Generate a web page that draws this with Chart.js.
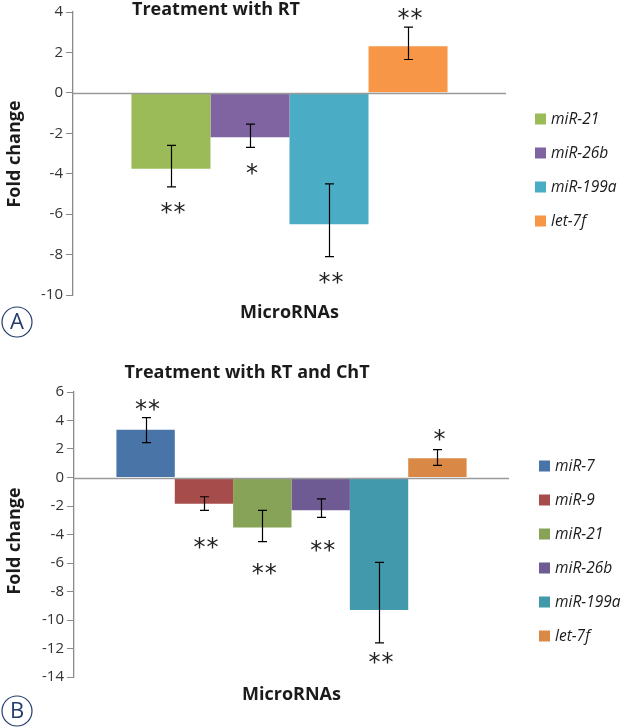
<!DOCTYPE html>
<html>
<head>
<meta charset="utf-8">
<script src="https://cdn.jsdelivr.net/npm/chart.js@4.4.1/dist/chart.umd.min.js"></script>
<style>
  html, body { margin: 0; padding: 0; background: #fff; }
  canvas { position: absolute; left: 0; }
  #chartA { top: 0; }
  #chartB { top: 330px; }
</style>
</head>
<body>
<canvas id="chartA" width="627" height="345"></canvas>
<canvas id="chartB" width="627" height="398"></canvas>
<script>
// Panel A - treatment with RT
const seriesA = ['miR-21', 'miR-26b', 'miR-199a', 'let-7f'];
const valuesA = [-3.75, -2.2, -6.5, 2.3];
const errHighA = [-2.6, -1.55, -4.5, 3.25];
const errLowA = [-4.65, -2.7, -8.1, 1.65];
const starsA = ['**', '*', '**', '**'];
const axisA = { min: -10, max: 4, step: 2 };

// Panel B - treatment with RT and ChT
const seriesB = ['miR-7', 'miR-9', 'miR-21', 'miR-26b', 'miR-199a', 'let-7f'];
const valuesB = [3.35, -1.85, -3.5, -2.3, -9.3, 1.35];
const errHighB = [4.2, -1.35, -2.3, -1.5, -5.95, 1.95];
const errLowB = [2.45, -2.3, -4.5, -2.8, -11.6, 0.85];
const starsB = ['**', '**', '**', '**', '**', '*'];
const axisB = { min: -14, max: 6, step: 2 };

const colorsA = ['#9BBB59', '#8064A2', '#4BACC6', '#F79646'];
const colorsB = ['#4874A7', '#A64C4B', '#87A357', '#6E5B93', '#4399AC', '#D98845'];

const TXT = '#1b1b1b';
const NAVY = '#243c6b';

const makePanel = (canvasId, cfg) => {
    const ctx = document.getElementById(canvasId);

    // draws zero line, error bars, stars, titles, legend and the panel letter
    const deco = {
        id: 'deco',
        afterDatasetsDraw(chart) {
            const c = chart.ctx;
            const y = chart.scales.y;
            const area = chart.chartArea;

            // zero line on top of bars
            c.save();
            c.strokeStyle = '#9a9a9a';
            c.lineWidth = 1.3;
            const y0 = Math.round(y.getPixelForValue(0)) + 0.5;
            c.beginPath();
            c.moveTo(area.left, y0);
            c.lineTo(area.right, y0);
            c.stroke();

            // error bars
            c.strokeStyle = '#000';
            c.lineWidth = 1.2;
            cfg.values.forEach((v, i) => {
                const bar = chart.getDatasetMeta(i).data[0];
                const x = Math.round(bar.x) + 0.5;
                const yh = y.getPixelForValue(cfg.errHigh[i]);
                const yl = y.getPixelForValue(cfg.errLow[i]);
                c.beginPath();
                c.moveTo(x, yh); c.lineTo(x, yl);
                c.moveTo(x - 4.5, yh); c.lineTo(x + 4.5, yh);
                c.moveTo(x - 4.5, yl); c.lineTo(x + 4.5, yl);
                c.stroke();
            });

            // significance stars
            c.fillStyle = '#222';
            c.font = '24px "DejaVu Sans"';
            c.textAlign = 'center';
            c.textBaseline = 'alphabetic';
            const m = c.measureText('*');
            const shift = (m.actualBoundingBoxAscent - m.actualBoundingBoxDescent) / 2;
            cfg.values.forEach((v, i) => {
                const bar = chart.getDatasetMeta(i).data[0];
                const cy = v >= 0
                    ? y.getPixelForValue(cfg.errHigh[i]) - cfg.starOff[i]
                    : y.getPixelForValue(cfg.errLow[i]) + cfg.starOff[i];
                const n = cfg.stars[i].length;
                for (let k = 0; k < n; k++) {
                    const sx = bar.x + 2 + (k - (n - 1) / 2) * 13;
                    c.fillText('*', sx, cy + shift);
                }
            });

            // titles
            c.fillStyle = TXT;
            c.font = 'bold 18px "Open Sans"';
            c.textAlign = 'center';
            c.fillText(cfg.title, cfg.titleX, cfg.titleY);
            c.fillText('MicroRNAs', (area.left + area.right) / 2, cfg.xTitleY);
            c.save();
            c.translate(20, cfg.yTitleY);
            c.rotate(-Math.PI / 2);
            c.fillText('Fold change', 0, 0);
            c.restore();

            // legend
            c.font = 'italic 15.5px "Open Sans"';
            c.textAlign = 'left';
            c.textBaseline = 'middle';
            cfg.series.forEach((s, i) => {
                const ly = cfg.legendY + i * 34;
                c.fillStyle = cfg.colors[i];
                c.fillRect(cfg.legendX, ly - 5.5, 11, 11);
                c.fillStyle = TXT;
                c.fillText(s, cfg.legendX + 16, ly + 1);
            });

            // panel letter in circle
            c.strokeStyle = NAVY;
            c.lineWidth = 1.2;
            c.beginPath();
            c.arc(17, cfg.letterY, 15, 0, Math.PI * 2);
            c.stroke();
            c.fillStyle = NAVY;
            c.font = '22px "Open Sans"';
            c.textAlign = 'center';
            c.textBaseline = 'middle';
            c.fillText(cfg.letter, 17, cfg.letterY + 1);
            c.restore();
        }
    };

    new Chart(ctx, {
        type: 'bar',
        data: {
            labels: ['MicroRNAs'],
            datasets: cfg.series.map((s, i) => ({
                label: s,
                data: [cfg.values[i]],
                backgroundColor: cfg.colors[i],
                borderWidth: 0
            }))
        },
        options: {
            responsive: false,
            animation: false,
            layout: { padding: cfg.padding },
            datasets: {
                bar: { categoryPercentage: cfg.catPct, barPercentage: 1 }
            },
            scales: {
                x: { display: false },
                y: {
                    min: cfg.axis.min,
                    max: cfg.axis.max,
                    afterFit: (scale) => { scale.width = cfg.axisLeft; },
                    ticks: {
                        stepSize: cfg.axis.step,
                        color: '#333',
                        padding: 3,
                        font: { family: 'Open Sans', size: 15 }
                    },
                    grid: {
                        color: 'rgba(0,0,0,0)',
                        tickColor: '#8a8a8a',
                        tickLength: 7,
                        drawTicks: true
                    },
                    border: { display: true, color: '#8a8a8a', width: 1.3 }
                }
            },
            plugins: {
                legend: { display: false },
                tooltip: { enabled: false }
            }
        },
        plugins: [deco]
    });
};

makePanel('chartA', {
    series: seriesA, values: valuesA, errHigh: errHighA, errLow: errLowA,
    stars: starsA, axis: axisA, colors: colorsA,
    starOff: [21, 22, 21, 13],
    padding: { left: 0, top: 11, right: 121, bottom: 50 },
    axisLeft: 73, catPct: 0.73,
    title: 'Treatment with RT', titleX: 216, titleY: 15,
    xTitleY: 318, yTitleY: 154,
    legendX: 535, legendY: 119,
    letter: 'A', letterY: 322
});

makePanel('chartB', {
    series: seriesB, values: valuesB, errHigh: errHighB, errLow: errLowB,
    stars: starsB, axis: axisB, colors: colorsB,
    starOff: [13, 33, 27, 29, 15, 15],
    padding: { left: 0, top: 62, right: 118, bottom: 51 },
    axisLeft: 74, catPct: 0.805,
    title: 'Treatment with RT and ChT', titleX: 247, titleY: 48,
    xTitleY: 370, yTitleY: 211,
    legendX: 539, legendY: 136,
    letter: 'B', letterY: 381
});
</script>
</body>
</html>
